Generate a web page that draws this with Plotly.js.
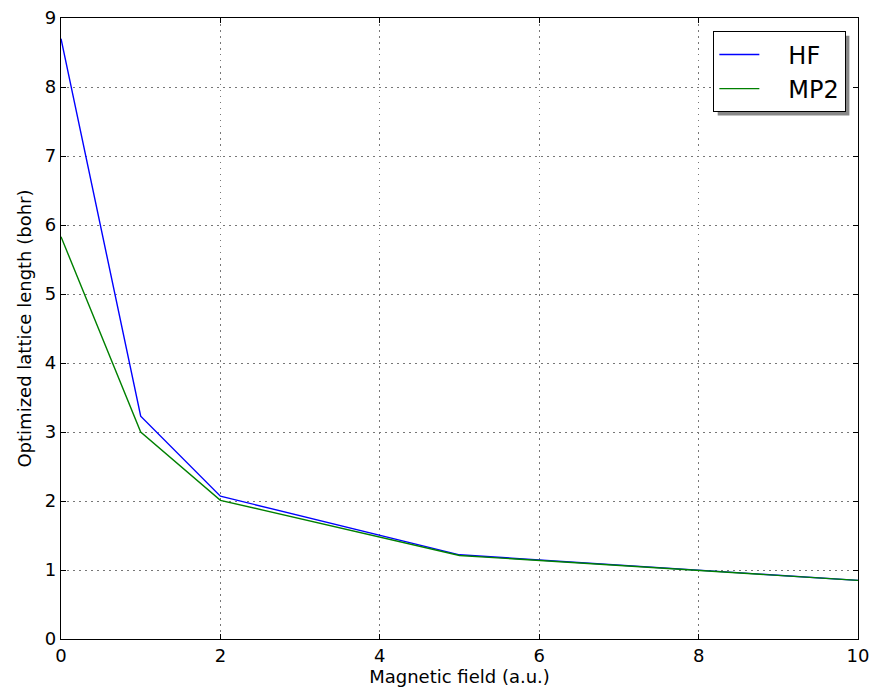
<!DOCTYPE html>
<html>
<head>
<meta charset="utf-8">
<script src="https://cdn.plot.ly/plotly-3.0.1.min.js"></script>
<style>html,body{margin:0;padding:0;background:#fff;}#chart{width:874px;height:692px;}</style>
</head>
<body>
<div id="chart"></div>
<script>
var field = [0, 1, 2, 5, 10];
var hfLength = [8.70, 3.23, 2.07, 1.22, 0.85];
var mp2Length = [5.83, 3.00, 2.01, 1.21, 0.85];
var seriesNames = ['HF', 'MP2'];
var xTicks = [0, 2, 4, 6, 8, 10];
var yTicks = [0, 1, 2, 3, 4, 5, 6, 7, 8, 9];

var pad = '\u2002\u2002';
var traces = [
  {x: field, y: hfLength, name: pad + seriesNames[0], type: 'scatter', mode: 'lines',
   line: {color: '#0000ff', width: 1.4}},
  {x: field, y: mp2Length, name: pad + seriesNames[1], type: 'scatter', mode: 'lines',
   line: {color: '#008000', width: 1.4}}
];

var axisCommon = {
  showline: true, linecolor: '#000', linewidth: 1.3, mirror: 'ticks',
  ticks: 'inside', ticklen: 5, tickcolor: '#000', tickwidth: 1,
  showgrid: true, gridcolor: '#777', griddash: '1.5px,4.5px', gridwidth: 1,
  zeroline: false, tickfont: {family: 'DejaVu Sans', size: 18, color: '#000'}
};

var layout = {
  width: 874, height: 692,
  margin: {l: 61, r: 16, t: 18, b: 53},
  paper_bgcolor: '#fff', plot_bgcolor: '#fff',
  font: {family: 'DejaVu Sans', color: '#000'},
  xaxis: Object.assign({}, axisCommon, {
    range: [0, 10], tickvals: xTicks, ticktext: xTicks.map(String),
    title: {text: 'Magnetic field (a.u.)', font: {size: 18}, standoff: 2}
  }),
  yaxis: Object.assign({}, axisCommon, {
    range: [0, 9], tickvals: yTicks, ticktext: yTicks.map(String),
    title: {text: 'Optimized lattice length (bohr)', font: {size: 18}, standoff: 8}
  }),
  showlegend: true,
  legend: {
    x: 0.985, y: 0.979, xanchor: 'right', yanchor: 'top',
    bgcolor: '#fff', bordercolor: '#000', borderwidth: 1.3,
    font: {family: 'DejaVu Sans', size: 24, color: '#000'},
    itemwidth: 40, tracegroupgap: 0
  },
  shapes: [
    {type: 'rect', xref: 'paper', yref: 'paper', layer: 'above',
     x0: 0.8143, x1: 0.990, y0: 0.852, y1: 0.9726,
     fillcolor: '#888', line: {width: 0}}
  ]
};

Plotly.newPlot('chart', traces, layout, {displayModeBar: false, staticPlot: true}).then(function(gd){
  var bg = gd.querySelector('.legend .bg');
  if (!bg) return;
  var r = bg.getBoundingClientRect();
  var pr = gd.querySelector('.main-svg').getBoundingClientRect();
  var fs = gd._fullLayout._size;
  var toX = function(px){ return (px - pr.left - fs.l) / fs.w; };
  var toY = function(py){ return 1 - (py - pr.top - fs.t) / fs.h; };
  Plotly.relayout(gd, {
    'shapes[0].x0': toX(r.left + 4), 'shapes[0].x1': toX(r.right + 4),
    'shapes[0].y0': toY(r.bottom + 4), 'shapes[0].y1': toY(r.top + 4)
  });
});
</script>
</body>
</html>
